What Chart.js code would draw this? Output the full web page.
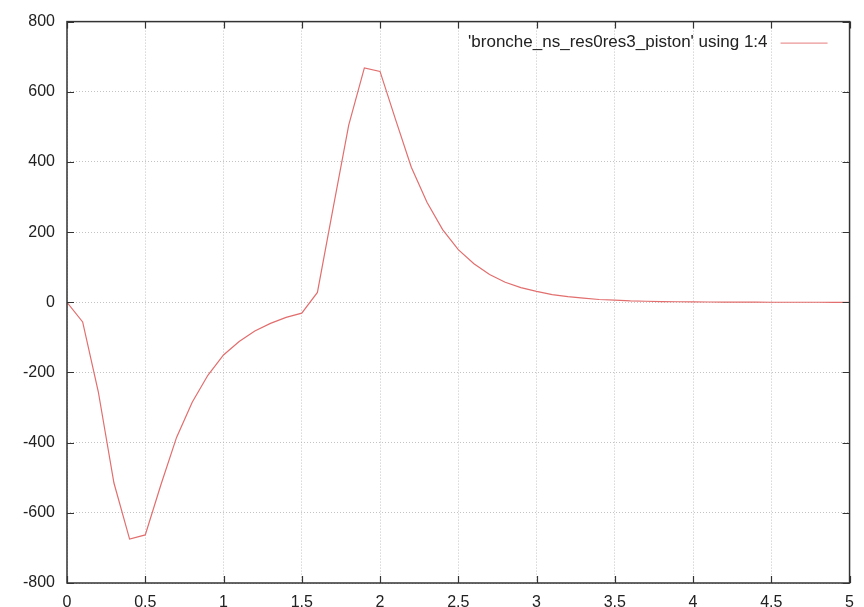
<!DOCTYPE html>
<html>
<head>
<meta charset="utf-8">
<script src="https://cdn.jsdelivr.net/npm/chart.js@4.4.0/dist/chart.umd.min.js"></script>
<style>
html,body{margin:0;padding:0;background:#fff;}
#wrap{width:864px;height:607px;position:relative;}
</style>
</head>
<body>
<div id="wrap"><canvas id="c"></canvas></div>
<script>
const xValues = [0,0.1,0.2,0.3,0.4,0.5,0.6,0.7,0.8,0.9,1.0,1.1,1.2,1.3,1.4,1.5,1.6,1.7,1.8,1.9,2.0,2.1,2.2,2.3,2.4,2.5,2.6,2.7,2.8,2.9,3.0,3.1,3.2,3.3,3.4,3.5,3.6,3.7,3.8,3.9,4.0,4.1,4.2,4.3,4.4,4.5,4.6,4.7,4.8,4.9,5.0];
const yValues = [0,-56,-255,-515,-675,-663,-520,-385,-285,-208,-150,-112,-82,-60,-43,-31,28,268,505,668,658,520,385,285,207,150,110,79,57,42,31,22,16,12,8,6,4,3,2,1.5,1,0.8,0.6,0.4,0.3,0.2,0.1,0.1,0.1,0,0];
const seriesLabel = "'bronche_ns_res0res3_piston' using 1:4";
const xTicks = [0,0.5,1,1.5,2,2.5,3,3.5,4,4.5,5];
const yTicks = [-800,-600,-400,-200,0,200,400,600,800];

const lineColor = 'rgb(226,110,110)';
const FONT = '"Liberation Sans", Arial, sans-serif';

const framePlugin = {
  id: 'frame',
  afterDatasetsDraw(chart) {
    const {ctx, chartArea: a, scales} = chart;
    ctx.save();
    ctx.strokeStyle = '#333';
    ctx.lineWidth = 1.5;
    ctx.strokeRect(a.left, a.top, a.right - a.left, a.bottom - a.top);
    ctx.lineWidth = 1.2;
    const tl = 7;
    ctx.beginPath();
    xTicks.forEach(v => {
      const px = Math.round(scales.x.getPixelForValue(v)) + 0.5;
      ctx.moveTo(px, a.bottom); ctx.lineTo(px, a.bottom - tl);
      ctx.moveTo(px, a.top); ctx.lineTo(px, a.top + tl);
    });
    yTicks.forEach(v => {
      const py = Math.round(scales.y.getPixelForValue(v)) + 0.5;
      ctx.moveTo(a.left, py); ctx.lineTo(a.left + tl, py);
      ctx.moveTo(a.right, py); ctx.lineTo(a.right - tl, py);
    });
    ctx.stroke();
    // key
    const ky = a.top + 21;
    ctx.font = '17px ' + FONT;
    ctx.fillStyle = '#222';
    ctx.textAlign = 'right';
    ctx.textBaseline = 'middle';
    ctx.fillText(seriesLabel, a.right - 82, ky);
    ctx.strokeStyle = 'rgb(236,150,150)';
    ctx.lineWidth = 1.2;
    ctx.beginPath();
    ctx.moveTo(a.right - 69, ky + 0.5);
    ctx.lineTo(a.right - 22, ky + 0.5);
    ctx.stroke();
    ctx.restore();
  }
};

new Chart(document.getElementById('c'), {
  type: 'line',
  data: {
    datasets: [{
      label: seriesLabel,
      data: xValues.map((x, i) => ({x: x, y: yValues[i]})),
      borderColor: lineColor,
      borderWidth: 1.2,
      pointRadius: 0,
      tension: 0,
      fill: false
    }]
  },
  options: {
    responsive: true,
    maintainAspectRatio: false,
    animation: false,
    layout: {padding: {top: 21, right: 12, left: 0, bottom: 0}},
    plugins: {legend: {display: false}, tooltip: {enabled: false}},
    scales: {
      x: {
        type: 'linear', min: 0, max: 5,
        afterBuildTicks(s) { s.ticks = xTicks.map(v => ({value: v})); },
        afterFit(s) { s.height = 24; },
        ticks: {color: '#222', font: {family: FONT, size: 16}, padding: 10, maxRotation: 0,
          callback: v => String(v)},
        grid: {color: 'rgba(175,175,175,0.75)', drawTicks: false, lineWidth: 1},
        border: {display: false, dash: [1, 2]}
      },
      y: {
        type: 'linear', min: -800, max: 800,
        afterBuildTicks(s) { s.ticks = yTicks.map(v => ({value: v})); },
        afterFit(s) { s.width = 67; },
        ticks: {color: '#222', font: {family: FONT, size: 16}, padding: 12,
          callback: v => String(v)},
        grid: {color: 'rgba(175,175,175,0.75)', drawTicks: false, lineWidth: 1},
        border: {display: false, dash: [1, 2]}
      }
    }
  },
  plugins: [framePlugin]
});
</script>
</body>
</html>
